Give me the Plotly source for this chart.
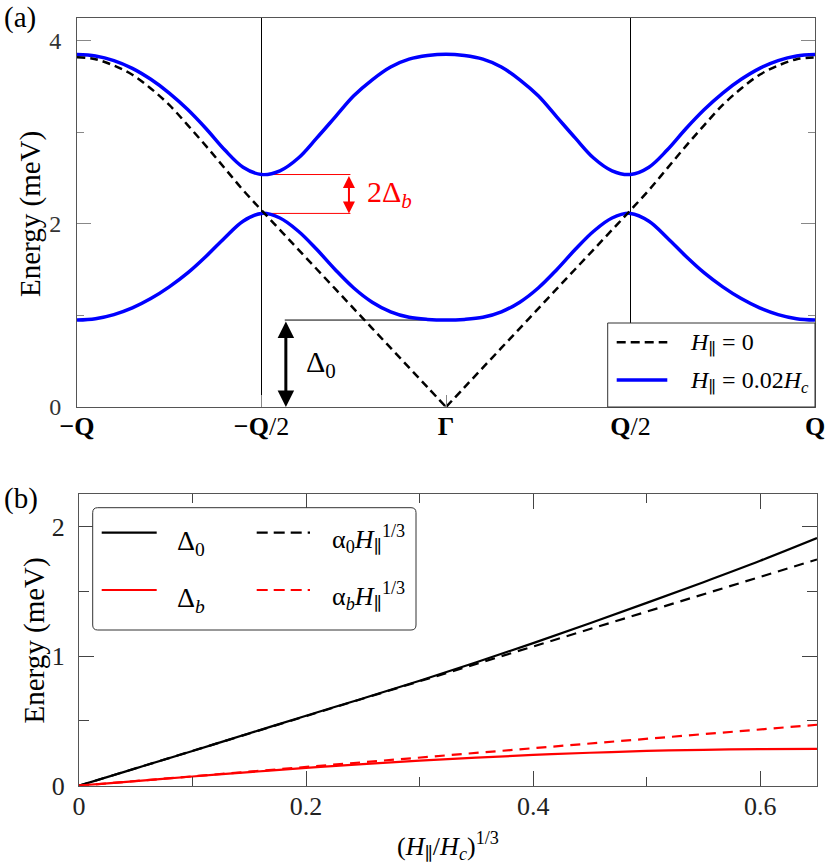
"""
Dispersión de magnones (a) y gaps frente al campo (b).
"""
import plotly.graph_objects as go

# =============================================================================
# DATOS
# =============================================================================
# (a) bandas a lo largo de -Q .. Q  (k en unidades de Q)
K = [-1.00, -0.95, -0.90, -0.85, -0.80, -0.75, -0.70, -0.65, -0.60, -0.55,
     -0.50, -0.45, -0.40, -0.35, -0.30, -0.25, -0.20, -0.15, -0.10, -0.05,
     0.00, 0.05, 0.10, 0.15, 0.20, 0.25, 0.30, 0.35, 0.40, 0.45,
     0.50, 0.55, 0.60, 0.65, 0.70, 0.75, 0.80, 0.85, 0.90, 0.95, 1.00]

# H_par = 0 (línea discontinua)
E_H0 = [3.82, 3.80, 3.73, 3.63, 3.48, 3.30, 3.08, 2.85, 2.61, 2.37,
        2.15, 1.935, 1.72, 1.505, 1.29, 1.075, 0.86, 0.645, 0.43, 0.215,
        0.0, 0.215, 0.43, 0.645, 0.86, 1.075, 1.29, 1.505, 1.72, 1.935,
        2.15, 2.37, 2.61, 2.85, 3.08, 3.30, 3.48, 3.63, 3.73, 3.80, 3.82]

# H_par = 0.02 Hc, banda inferior y superior
E_LOW = [0.95, 0.965, 1.01, 1.083, 1.185, 1.313, 1.465, 1.647, 1.847, 2.03,
         2.115, 2.065, 1.92, 1.72, 1.50, 1.30, 1.145, 1.04, 0.98, 0.957,
         0.95, 0.957, 0.98, 1.04, 1.145, 1.30, 1.50, 1.72, 1.92, 2.065,
         2.115, 2.03, 1.847, 1.647, 1.465, 1.313, 1.185, 1.083, 1.01, 0.965, 0.95]

E_UP = [3.85, 3.835, 3.785, 3.70, 3.58, 3.43, 3.25, 3.04, 2.81, 2.62,
        2.54, 2.58, 2.72, 2.94, 3.17, 3.40, 3.575, 3.715, 3.80, 3.84,
        3.855, 3.84, 3.80, 3.715, 3.575, 3.40, 3.17, 2.94, 2.72, 2.58,
        2.54, 2.62, 2.81, 3.04, 3.25, 3.43, 3.58, 3.70, 3.785, 3.835, 3.85]

K_TICKS = [-1, -0.5, 0, 0.5, 1]
K_TICK_TEXT = ["<b>−Q</b>", "<b>−Q</b>/2", "<b>Γ</b>", "<b>Q</b>/2", "<b>Q</b>"]

# (b) gaps frente a (H_par/Hc)^(1/3)
X_FIELD = [0.00, 0.05, 0.10, 0.15, 0.20, 0.25, 0.30, 0.35, 0.40, 0.45, 0.50, 0.55, 0.60, 0.65]
DELTA_0 = [0.0, 0.134, 0.268, 0.404, 0.540, 0.673, 0.810, 0.952, 1.100, 1.253, 1.410, 1.570, 1.735, 1.910]
DELTA_B = [0.0, 0.036, 0.071, 0.105, 0.137, 0.166, 0.193, 0.216, 0.237, 0.254, 0.268, 0.277, 0.282, 0.284]

X_FIT = [0.0, 0.65]
FIT_0 = [0.0, 1.745]
FIT_B = [0.0, 0.47]

# =============================================================================
# ESTILO
# =============================================================================
W, H = 830, 866
FONT = "Liberation Serif, DejaVu Serif, serif"
BLUE = "#0000ff"
RED = "#ff0000"
FRAME = "#555555"
TICK = "#888888"


def px(x):
    return x / W


def py(y):
    return 1 - y / H


i0 = K.index(0.0)
i_half = K.index(-0.5)
DELTA0_A = min(E_LOW)
GAP_LOW = E_LOW[i_half]
GAP_UP = E_UP[i_half]

fig = go.Figure()

# ---- panel (a)
fig.add_trace(go.Scatter(x=K, y=E_UP, mode="lines",
                         line=dict(color=BLUE, width=3.5, shape="spline"),
                         xaxis="x", yaxis="y", hoverinfo="skip"))
fig.add_trace(go.Scatter(x=K, y=E_LOW, mode="lines",
                         line=dict(color=BLUE, width=3.5, shape="spline"),
                         xaxis="x", yaxis="y", hoverinfo="skip"))
for sl in (slice(0, i0 + 1), slice(i0, None)):
    fig.add_trace(go.Scatter(x=K[sl], y=E_H0[sl], mode="lines",
                             line=dict(color="black", width=2.5, dash="8px,5px", shape="spline"),
                             xaxis="x", yaxis="y", hoverinfo="skip"))

# ---- panel (b)
fig.add_trace(go.Scatter(x=X_FIELD, y=DELTA_0, mode="lines",
                         line=dict(color="black", width=2.2, shape="spline"),
                         xaxis="x2", yaxis="y2"))
fig.add_trace(go.Scatter(x=X_FIT, y=FIT_0, mode="lines",
                         line=dict(color="black", width=2.2, dash="10px,7px"),
                         xaxis="x2", yaxis="y2"))
fig.add_trace(go.Scatter(x=X_FIELD, y=DELTA_B, mode="lines",
                         line=dict(color=RED, width=2.2, shape="spline"),
                         xaxis="x2", yaxis="y2"))
fig.add_trace(go.Scatter(x=X_FIT, y=FIT_B, mode="lines",
                         line=dict(color=RED, width=2.2, dash="10px,7px"),
                         xaxis="x2", yaxis="y2"))

shapes = []
# líneas verticales en ±Q/2
for kv in (-0.5, 0.5):
    shapes.append(dict(type="line", xref="x", yref="y domain", x0=kv, x1=kv, y0=0, y1=1,
                       line=dict(color="black", width=1), layer="below"))
# marcas de los gaps
shapes.append(dict(type="line", xref="x", yref="y", x0=-0.437, x1=0, y0=DELTA0_A, y1=DELTA0_A,
                   line=dict(color="black", width=1), layer="below"))
for e in (GAP_LOW, GAP_UP):
    shapes.append(dict(type="line", xref="x", yref="y", x0=-0.5, x1=-0.259, y0=e, y1=e,
                       line=dict(color=RED, width=1), layer="below"))

# leyenda (a)
shapes.append(dict(type="rect", xref="paper", yref="paper", x0=px(607.7), x1=px(815),
                   y0=py(407), y1=py(323), line=dict(color="#333333", width=1),
                   fillcolor="white", layer="above"))
shapes.append(dict(type="line", xref="paper", yref="paper", x0=px(616.7), x1=px(667.3),
                   y0=py(342.3), y1=py(342.3), line=dict(color="black", width=2.5, dash="9px,5px"),
                   layer="above"))
shapes.append(dict(type="line", xref="paper", yref="paper", x0=px(616.7), x1=px(667.3),
                   y0=py(380), y1=py(380), line=dict(color=BLUE, width=3.5), layer="above"))

# leyenda (b), caja con esquinas redondeadas
x0, x1, y0, y1 = px(92.7), px(416), py(630), py(507.7)
rx, ry = 5 / W, 5 / H
path = (f"M {x0 + rx},{y0} L {x1 - rx},{y0} Q {x1},{y0} {x1},{y0 + ry} "
        f"L {x1},{y1 - ry} Q {x1},{y1} {x1 - rx},{y1} "
        f"L {x0 + rx},{y1} Q {x0},{y1} {x0},{y1 - ry} "
        f"L {x0},{y0 + ry} Q {x0},{y0} {x0 + rx},{y0} Z")
shapes.append(dict(type="path", xref="paper", yref="paper", path=path,
                   line=dict(color="#333333", width=1), fillcolor="white", layer="above"))
for yy, col in ((532.7, "black"), (590, RED)):
    shapes.append(dict(type="line", xref="paper", yref="paper", x0=px(101.7), x1=px(156.7),
                       y0=py(yy), y1=py(yy), line=dict(color=col, width=2.2), layer="above"))
    shapes.append(dict(type="line", xref="paper", yref="paper", x0=px(256.7), x1=px(310),
                       y0=py(yy), y1=py(yy), line=dict(color=col, width=2.2, dash="11px,6px"),
                       layer="above"))


def texto(x, y, s, size, ref="paper", color="black", xanchor="left", angle=0):
    return dict(x=x, y=y, xref=ref, yref=ref if ref == "paper" else "y", text=s,
                showarrow=False, xanchor=xanchor, yanchor="middle", textangle=angle,
                font=dict(family=FONT, size=size, color=color))


annotations = [
    # flechas
    dict(x=-0.434, y=0, ax=-0.434, ay=DELTA0_A, xref="x", yref="y", axref="x", ayref="y",
         text="", showarrow=True, arrowhead=2, arrowside="end+start", arrowwidth=3,
         arrowsize=1.1, arrowcolor="black", standoff=0, startstandoff=0),
    dict(x=-0.263, y=GAP_LOW, ax=-0.263, ay=GAP_UP, xref="x", yref="y", axref="x", ayref="y",
         text="", showarrow=True, arrowhead=2, arrowside="end+start", arrowwidth=2,
         arrowsize=1.2, arrowcolor=RED, standoff=0, startstandoff=0),
    texto(-0.220, 2.33, "2Δ<sub><i>b</i></sub>", 30, ref="x", color=RED),
    texto(-0.386, 0.47, "Δ<sub>0</sub>", 30, ref="x"),
    # leyenda (a)
    texto(px(688), py(344), "<i>H</i><sub>∥</sub> = 0", 24),
    texto(px(688), py(382), "<i>H</i><sub>∥</sub> = 0.02<i>H</i><sub><i>c</i></sub>", 24),
    # leyenda (b)
    texto(px(175), py(542), "Δ<sub>0</sub>", 28),
    texto(px(330), py(539), "α<sub>0</sub><i>H</i><sub>∥</sub><sup>1/3</sup>", 26),
    texto(px(175), py(599), "Δ<sub><i>b</i></sub>", 28),
    texto(px(330), py(596), "α<sub><i>b</i></sub><i>H</i><sub>∥</sub><sup>1/3</sup>", 26),
    # etiquetas de panel y títulos de ejes
    texto(px(2), py(17), "(a)", 29),
    texto(px(2), py(498), "(b)", 29),
    texto(px(31), py(214), "Energy (meV)", 29, xanchor="center", angle=-90),
    texto(px(33.5), py(641), "Energy (meV)", 29, xanchor="center", angle=-90),
    texto(px(448), py(846), "(<i>H</i><sub>∥</sub>/<i>H</i><sub><i>c</i></sub>)<sup>1/3</sup>",
          26, xanchor="center"),
]

axis_common = dict(showgrid=False, zeroline=False, showline=True, linecolor=FRAME,
                   linewidth=1, ticks="inside", automargin=False)

fig.update_layout(
    width=W, height=H,
    margin=dict(l=0, r=0, t=0, b=0),
    paper_bgcolor="white", plot_bgcolor="white",
    showlegend=False,
    font=dict(family=FONT, size=24, color="black"),
    shapes=shapes,
    annotations=annotations,
    xaxis=dict(axis_common, domain=[px(77), px(815)], range=[-1, 1], anchor="y",
               tickmode="array", tickvals=K_TICKS, ticktext=K_TICK_TEXT,
               ticklen=12, tickcolor=TICK, mirror=True,
               tickfont=dict(family=FONT, size=26, color="black"), ticklabelstandoff=-4),
    yaxis=dict(axis_common, domain=[py(407), py(18)], range=[0, 4.25], anchor="x",
               tickmode="array", tickvals=[0, 2, 4], ticklen=14, tickcolor=TICK,
               mirror="ticks", tickfont=dict(family=FONT, size=24, color="#333333"),
               ticklabelstandoff=10,
               minor=dict(tickmode="array", tickvals=[1, 3], ticklen=7,
                          tickcolor=TICK, ticks="inside", showgrid=False)),
    xaxis2=dict(axis_common, domain=[px(79), px(817)], range=[0, 0.65], anchor="y2",
                tickmode="array", tickvals=[0, 0.2, 0.4, 0.6], ticktext=["0", "0.2", "0.4", "0.6"],
                ticklen=15, tickcolor="#444444", mirror="ticks",
                tickfont=dict(family=FONT, size=26, color="#222222"), ticklabelstandoff=-3,
                minor=dict(tickmode="array", tickvals=[0.1, 0.3, 0.5], ticklen=9,
                           tickcolor="#444444", ticks="inside", showgrid=False)),
    yaxis2=dict(axis_common, domain=[py(785.7), py(494)], range=[0, 2.25], anchor="x2",
                tickmode="array", tickvals=[0, 1, 2], ticklen=15, tickcolor="#444444",
                mirror="ticks", tickfont=dict(family=FONT, size=26, color="#222222"),
                ticklabelstandoff=8,
                minor=dict(tickmode="array", tickvals=[0.5, 1.5], ticklen=10,
                           tickcolor="#444444", ticks="inside", showgrid=False)),
)

# el margen por defecto del <body> desplaza la figura 8 px
fig.write_html("out.html", config={"displayModeBar": False},
               post_script="document.body.style.margin = '0';")
